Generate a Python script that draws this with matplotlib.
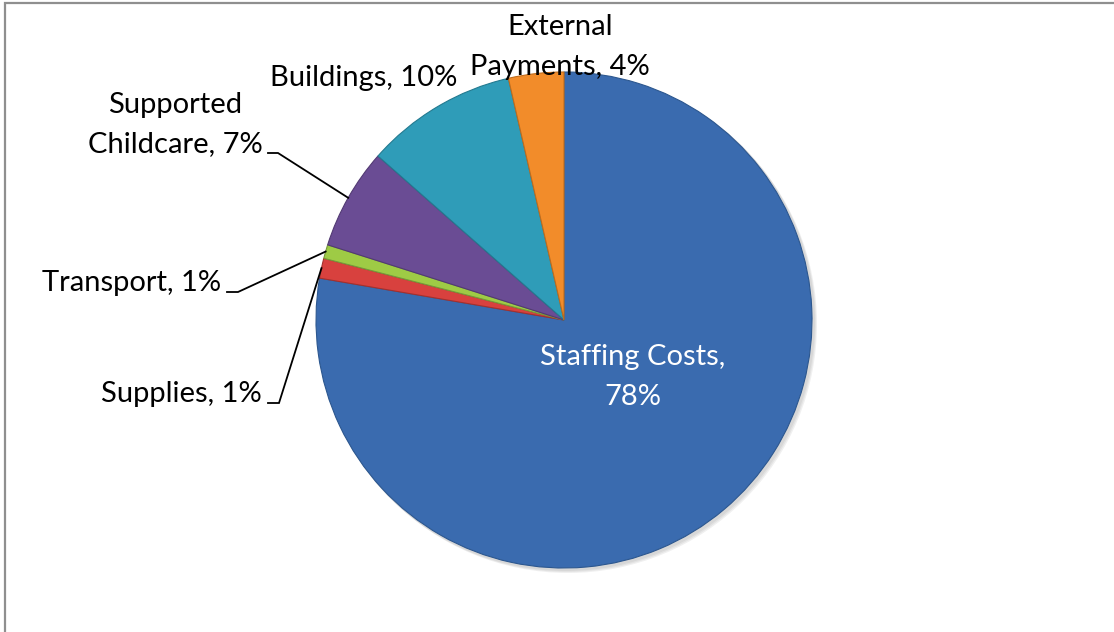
import matplotlib
matplotlib.use("Agg")
import matplotlib.pyplot as plt
import numpy as np
from matplotlib.patches import Rectangle, Circle

# Spending breakdown (percent of total)
categories = ["Staffing Costs", "Supplies", "Transport", "Supported\nChildcare",
              "Buildings", "External\nPayments"]
shares = [77.7, 1.3, 0.9, 6.6, 9.9, 3.6]
colors = ["#3A6BAF", "#D8413E", "#9ECB45", "#6A4C94", "#2F9CB8", "#F28C2A"]
edge_colors = ["#2C578F", "#A5302D", "#76993A", "#523A73", "#237A90", "#C06C1C"]

W, H = 1114, 632
fig = plt.figure(figsize=(W / 100, H / 100), dpi=100)
ax = fig.add_axes([0, 0, 1, 1])

plt.rcParams["font.family"] = ["Lato", "DejaVu Sans"]
FS = 21
LS = 1.62

cx, cy, R = 564, 312, 248

# soft drop shadow
for k, a in enumerate([0.05, 0.05, 0.06]):
    ax.add_patch(Circle((cx + 2 + k, cy - 2 - k), R + 1, color="black",
                        alpha=a, lw=0, zorder=1))

wedges, _ = ax.pie(shares, colors=colors, startangle=90, counterclock=False,
                   center=(cx, cy), radius=R, frame=True,
                   wedgeprops=dict(lw=0.8, zorder=2))
for w, ec in zip(wedges, edge_colors):
    w.set_edgecolor(ec)

ax.set_xlim(0, W)
ax.set_ylim(0, H)
ax.set_aspect("equal")
ax.axis("off")

# chart frame (runs off the right and bottom edges)
ax.add_patch(Rectangle((5, -20), W + 40, H - 3 + 20, fill=False,
                       edgecolor="#8F8F8F", lw=1.6, zorder=0))


def edge_point(w, frac=1.0):
    mid = np.deg2rad((w.theta1 + w.theta2) / 2)
    return cx + R * frac * np.cos(mid), cy + R * frac * np.sin(mid)


pct = ["%.0f%%" % s for s in shares]

# Staffing label inside the slice
ax.text(633, H - 377, f"{categories[0]},\n{pct[0]}", color="white", fontsize=FS,
        ha="center", va="center", linespacing=LS, zorder=5)

# outside labels
ax.text(560, H - 47, f"{categories[5]}, {pct[5]}", fontsize=FS,
        ha="center", va="center", linespacing=LS, zorder=5)
ax.text(457, H - 78, f"{categories[4]}, {pct[4]}", fontsize=FS,
        ha="right", va="center", zorder=5)
ax.text(175, H - 125, f"{categories[3]}, {pct[3]}", fontsize=FS,
        ha="center", va="center", linespacing=LS, zorder=5)
ax.text(221, H - 283, f"{categories[2]}, {pct[2]}", fontsize=FS,
        ha="right", va="center", zorder=5)
ax.text(262, H - 394, f"{categories[1]}, {pct[1]}", fontsize=FS,
        ha="right", va="center", zorder=5)

# leader lines from labels to their slices
leaders = [(3, (268, H - 153), (278, H - 153)),
           (2, (227, H - 292), (238, H - 292)),
           (1, (268, H - 403), (279, H - 403))]
for idx, p0, p1 in leaders:
    px, py = edge_point(wedges[idx], 1.0)
    ax.plot([p0[0], p1[0], px], [p0[1], p1[1], py], color="black", lw=1.3,
            zorder=4, solid_joinstyle="miter")

fig.savefig("out.png", dpi=100)
